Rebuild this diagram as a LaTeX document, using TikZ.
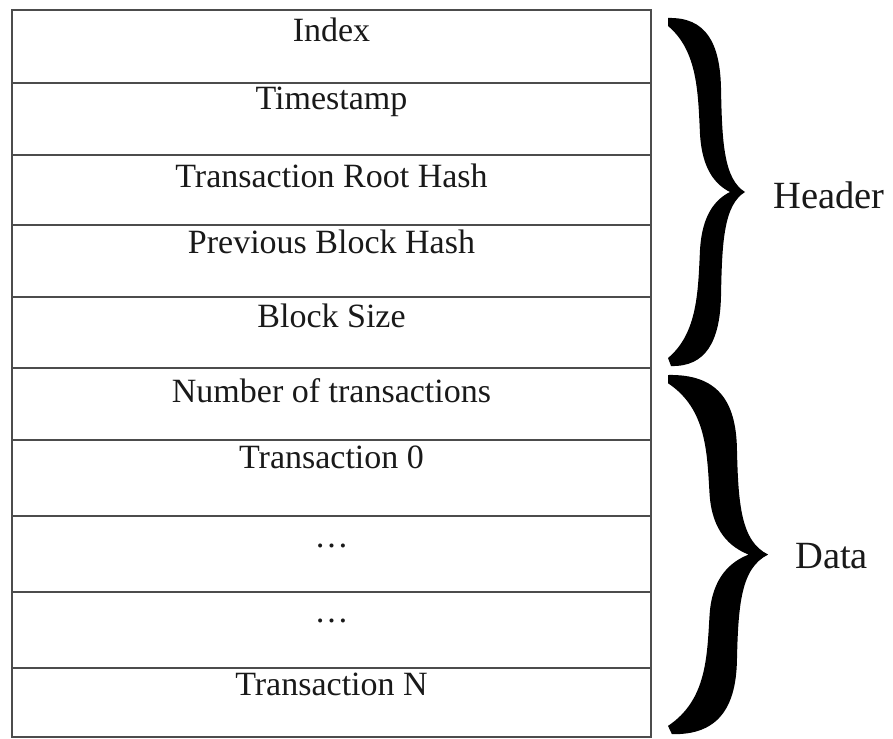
\documentclass[tikz,border=0pt]{standalone}
\usepackage{fontspec}
\setmainfont{Liberation Serif}
\begin{document}
\begin{tikzpicture}[x=1pt,y=-1pt,
  grid/.style={draw=black!70,line width=1.6pt},
  cell/.style={anchor=base,inner sep=0pt,text=black!90,font=\fontsize{34}{40}\selectfont},
  side/.style={anchor=base west,inner sep=0pt,text=black!90,font=\fontsize{38.5}{44}\selectfont},
  curly/.pic={
    \fill[black,line join=round]
      (0,0) .. controls (38,-1) and (52,25) .. (53,70)
            .. controls (54,125) and (56,161) .. (77,174)
            .. controls (56,187) and (54,223) .. (53,278)
            .. controls (52,323) and (38,349) .. (3,348)
            -- (0,340)
            .. controls (30,315) and (30,272) .. (32,232)
            .. controls (34,196) and (48,181) .. (62,174)
            .. controls (48,167) and (34,152) .. (32,116)
            .. controls (30,76) and (30,33) .. (0,8)
            -- cycle;
  }]
\useasboundingbox (0,0) rectangle (893,738);

% outer frame of the block
\draw[grid] (12,10) rectangle (651,737);
% row separators
\foreach \y in {83,155,225,297,368,440,516,592,668}
  \draw[grid] (12,\y) -- (651,\y);

% field labels
\node[cell] (idx)   at (331.5,42)  {Index};
\node[cell] (ts)    at (331.5,110) {Timestamp};
\node[cell] (root)  at (331.5,187) {Transaction Root Hash};
\node[cell] (prev)  at (331.5,253) {Previous Block Hash};
\node[cell] (size)  at (331.5,327) {Block Size};
\node[cell] (num)   at (331.5,402) {Number of transactions};
\node[cell] (tx0)   at (331.5,468) {Transaction 0};
\node[cell] (dots1) at (331.5,547) {\ldots};
\node[cell] (dots2) at (331.5,622) {\ldots};
\node[cell] (txn)   at (331.5,695) {Transaction N};

% braces grouping the fields
\pic at (668,18) {curly};
\pic[xscale=1.3,yscale=1.032] at (668,375) {curly};

\node[side] (hdr)  at (773,208) {Header};
\node[side] (data) at (795,568) {Data};
\end{tikzpicture}
\end{document}
